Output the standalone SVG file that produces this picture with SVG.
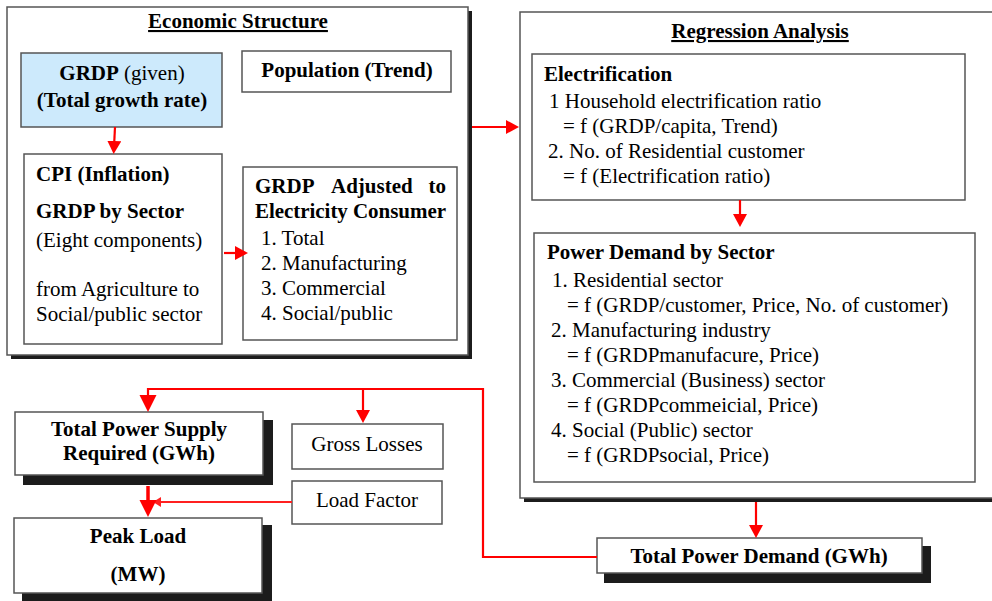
<svg xmlns="http://www.w3.org/2000/svg" width="992" height="601" viewBox="0 0 992 601">
<style>
text{font-family:"Liberation Serif","Times New Roman",serif;font-size:21px;fill:#000}
.b{font-weight:bold}
.u{text-decoration:underline}
.c{text-anchor:middle}
.box{fill:#fff;stroke:#555;stroke-width:1.5}
.blue{fill:#cdeafc;stroke:#555;stroke-width:1.5}
.sh{fill:#1c1c1c}
.ln{fill:none;stroke:#ff0000;stroke-width:2.2}
.thk{fill:none;stroke:#ff0000;stroke-width:3.5}
.thn{fill:none;stroke:#ff2020;stroke-width:2}
</style>
<defs>
<marker id="aS" markerUnits="userSpaceOnUse" markerWidth="14" markerHeight="14" refX="6" refY="7" orient="auto"><path d="M0,0 L13,7 L0,14 z" fill="#ff0000"/></marker>
<marker id="aL" markerUnits="userSpaceOnUse" markerWidth="18" markerHeight="18" refX="6" refY="8.5" orient="auto"><path d="M0,0 L17,8.5 L0,17 z" fill="#ff0000"/></marker>
<marker id="aT" markerUnits="userSpaceOnUse" markerWidth="10" markerHeight="11" refX="3" refY="5" orient="auto"><path d="M0,0 L8,5 L0,10 z" fill="#ff2020"/></marker>
</defs>
<rect width="992" height="601" fill="#fff"/>

<g id="economic-structure">
<rect class="sh" x="11" y="11" width="461" height="348"/>
<rect class="box" x="7" y="7" width="461" height="348"/>
<text class="b u c" x="238" y="28">Economic Structure</text>
</g>

<g id="grdp-given">
<rect class="blue" x="21" y="53" width="201" height="74"/>
<text class="c" x="122" y="80"><tspan class="b">GRDP</tspan> (given)</text>
<text class="b c" x="122" y="107">(Total growth rate)</text>
</g>

<g id="population">
<rect class="box" x="242" y="51" width="209" height="41"/>
<text class="b c" x="347" y="77">Population (Trend)</text>
</g>

<g id="cpi-grdp-sector">
<rect class="box" x="24" y="154" width="198" height="190"/>
<text class="b" x="36" y="181">CPI (Inflation)</text>
<text class="b" x="36" y="218">GRDP by Sector</text>
<text x="36" y="247">(Eight components)</text>
<text x="36" y="296">from Agriculture to</text>
<text x="36" y="321">Social/public sector</text>
</g>

<g id="grdp-adjusted">
<rect class="box" x="243" y="167" width="214" height="173"/>
<text class="b" y="193"><tspan x="255">GRDP</tspan><tspan x="331">Adjusted</tspan><tspan x="446" text-anchor="end">to</tspan></text>
<text class="b" x="255" y="218" textLength="191" lengthAdjust="spacing">Electricity Consumer</text>
<text x="261" y="245">1. Total</text>
<text x="261" y="270">2. Manufacturing</text>
<text x="261" y="295">3. Commercial</text>
<text x="261" y="320">4. Social/public</text>
</g>

<g id="regression-analysis">
<rect class="sh" x="524" y="16" width="480" height="486"/>
<rect class="box" x="520" y="12" width="480" height="486"/>
<text class="b u c" x="760" y="38">Regression Analysis</text>
</g>

<g id="electrification">
<rect class="box" x="532" y="54" width="433" height="146"/>
<text class="b" x="544" y="81">Electrification</text>
<text x="549" y="108">1 Household electrification ratio</text>
<text x="563" y="133">= f (GRDP/capita, Trend)</text>
<text x="548" y="158">2. No. of Residential customer</text>
<text x="563" y="183">= f (Electrification ratio)</text>
</g>

<g id="power-demand-by-sector">
<rect class="box" x="534" y="233" width="441" height="249"/>
<text class="b" x="547" y="259">Power Demand by Sector</text>
<text x="552" y="287">1. Residential sector</text>
<text x="567" y="312">= f (GRDP/customer, Price, No. of customer)</text>
<text x="551" y="337">2. Manufacturing industry</text>
<text x="567" y="362">= f (GRDPmanufacure, Price)</text>
<text x="551" y="387">3. Commercial (Business) sector</text>
<text x="567" y="412">= f (GRDPcommeicial, Price)</text>
<text x="551" y="437">4. Social (Public) sector</text>
<text x="567" y="462">= f (GRDPsocial, Price)</text>
</g>

<g id="total-power-demand">
<rect class="sh" x="604" y="546" width="327" height="37"/>
<rect class="box" x="597" y="538" width="325" height="35"/>
<text class="b c" x="759" y="563">Total Power Demand (GWh)</text>
</g>

<g id="total-power-supply">
<rect class="sh" x="23" y="420" width="250" height="65"/>
<rect class="box" x="15" y="412" width="248" height="63"/>
<text class="b c" x="139" y="436">Total Power Supply</text>
<text class="b c" x="139" y="460">Required (GWh)</text>
</g>

<g id="gross-losses">
<rect class="box" x="292" y="424" width="151" height="45"/>
<text class="c" x="367" y="451">Gross Losses</text>
</g>

<g id="load-factor">
<rect class="box" x="292" y="481" width="150" height="43"/>
<text class="c" x="367" y="507">Load Factor</text>
</g>

<g id="peak-load">
<rect class="sh" x="22" y="525" width="250" height="80"/>
<rect class="box" x="14" y="518" width="248" height="75"/>
<text class="b c" x="138" y="543">Peak Load</text>
<text class="b c" x="138" y="581">(MW)</text>
</g>

<g id="connectors">
<path class="ln" d="M115,127 L114,147" marker-end="url(#aS)"/>
<path class="ln" d="M224,253 L241,253" marker-end="url(#aS)"/>
<path class="ln" d="M472,127 L512,127" marker-end="url(#aS)"/>
<path class="ln" d="M740,200 L740,220" marker-end="url(#aS)"/>
<path class="ln" d="M756,502 L756,531" marker-end="url(#aS)"/>
<path class="ln" d="M597,557 L483,557 L483,389 L148,389 L148,401" marker-end="url(#aL)"/>
<path class="ln" d="M363,389 L363,416" marker-end="url(#aS)"/>
<path class="thn" d="M292,502 L158,502" marker-end="url(#aT)"/>
<path class="thk" d="M148,486 L148,506" marker-end="url(#aL)"/>
</g>
</svg>
